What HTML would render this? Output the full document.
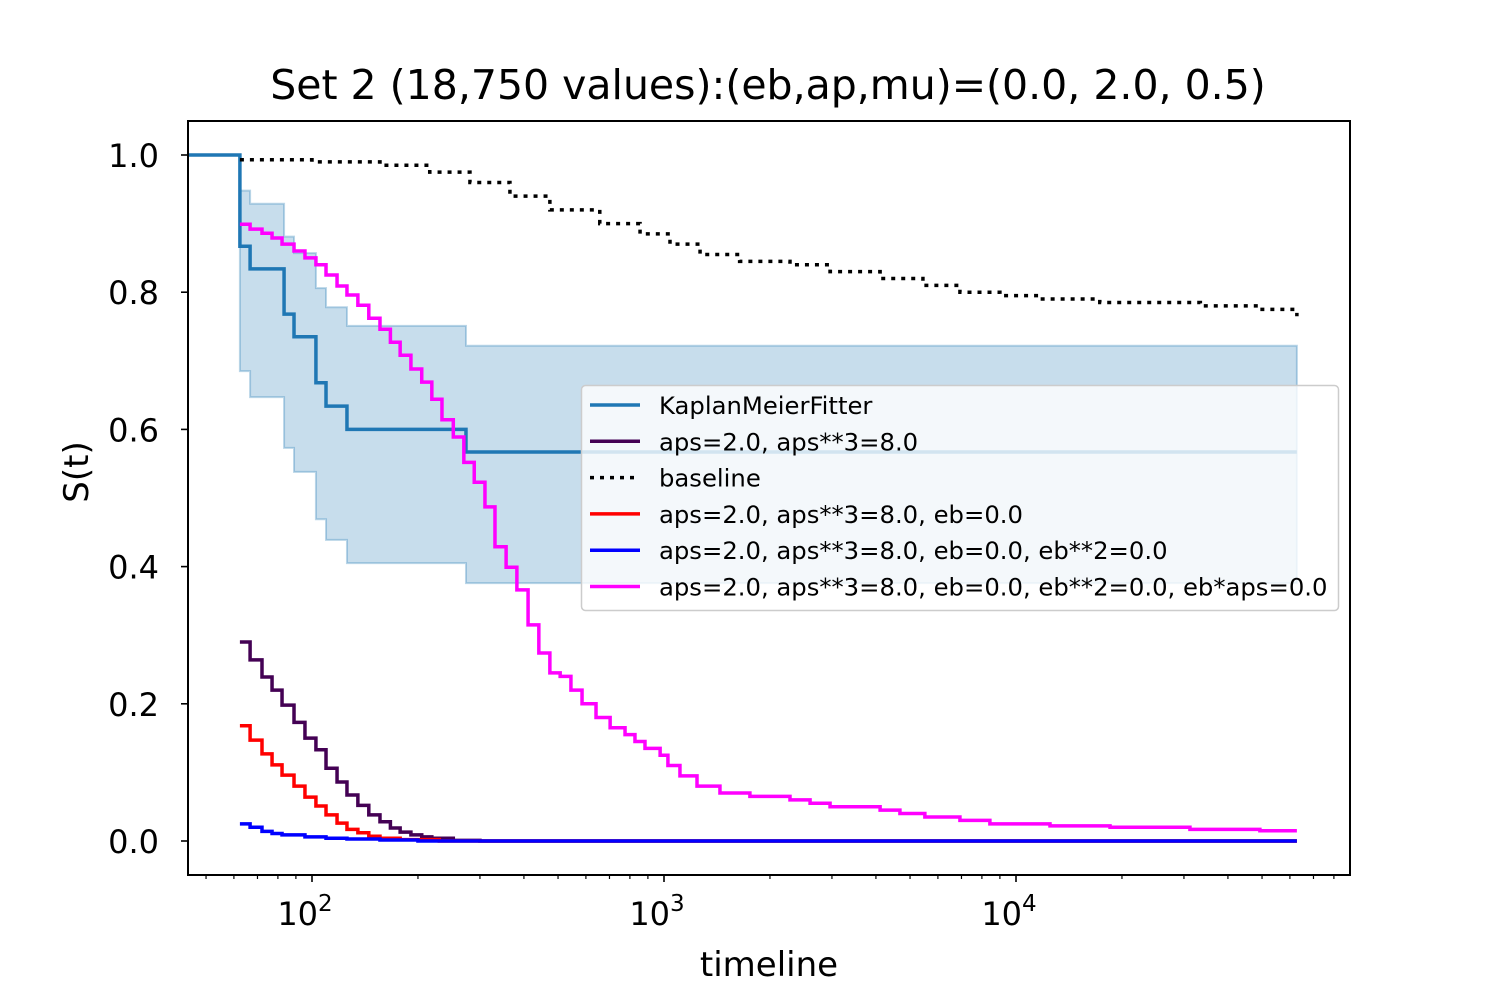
<!DOCTYPE html>
<html><head><meta charset="utf-8"><style>
html,body{margin:0;padding:0;background:#fff;}
svg{display:block;font-family:"DejaVu Sans","Liberation Sans",sans-serif;}
</style></head><body>
<svg id="chart" width="1500" height="1000" viewBox="0 0 1500 1000" xmlns="http://www.w3.org/2000/svg">
<rect width="1500" height="1000" fill="#fff"/>
<text x="768" y="99" font-size="41" text-anchor="middle">Set 2 (18,750 values):(eb,ap,mu)=(0.0, 2.0, 0.5)</text>
<text x="769" y="976" font-size="34" text-anchor="middle">timeline</text>
<text x="88" y="472" font-size="34" text-anchor="middle" transform="rotate(-90 88 472)">S(t)</text>
<g id="plot"></g>
</svg>
<script>
// ---- data ----
const kmTimes=[44.5,62.4,66.7,83.3,88.9,102.6,109.6,125.7,273.8,62800];
const kmValues=[1.0,0.867,0.834,0.768,0.735,0.668,0.634,0.600,0.567,0.567];
const ciUpper=[1.0,0.948,0.929,0.881,0.857,0.806,0.778,0.751,0.722,0.722];
const ciLower=[1.0,0.685,0.647,0.573,0.538,0.469,0.439,0.405,0.376,0.376];
const stepTimes=[62.4,66.7,72.1,77.0,82.2,88.9,95.5,102.6,109.6,117.8,125.7,135,145,156,167,178,191,205,219,234,252,270,289,310,331,356,382,411,441,474,507,544,585,641,703,775,827,883,975,1026,1110,1241,1442,1754,2280,2600,2963,4111,4680,5509,6930,8430,12490,18500,31200,49300,62800];
const magentaValues=[0.899,0.892,0.886,0.879,0.870,0.860,0.850,0.840,0.825,0.809,0.796,0.781,0.762,0.746,0.727,0.708,0.688,0.669,0.644,0.614,0.589,0.552,0.523,0.487,0.429,0.399,0.366,0.315,0.274,0.245,0.24,0.22,0.2,0.18,0.165,0.155,0.145,0.135,0.125,0.11,0.095,0.08,0.07,0.065,0.06,0.055,0.05,0.045,0.04,0.035,0.03,0.025,0.022,0.02,0.017,0.015,0.015];
const purpleTimes=[62.4,66.7,72.1,77.0,82.2,88.9,95.5,102.6,109.6,117.8,125.7,135,145,156,167,178,191,205,219,252,300,62800];
const purpleValues=[0.29,0.264,0.239,0.22,0.198,0.173,0.15,0.133,0.106,0.086,0.067,0.052,0.038,0.028,0.019,0.013,0.009,0.006,0.004,0.001,0.0,0.0];
const redTimes=[62.4,66.7,72.1,77.0,82.2,88.9,95.5,102.6,109.6,117.8,125.7,135,145,156,178,230,62800];
const redValues=[0.168,0.147,0.127,0.111,0.096,0.080,0.064,0.051,0.038,0.026,0.017,0.012,0.007,0.004,0.002,0.0,0.0];
const blueTimes=[62.4,66.7,72.1,77.0,82.2,95.5,109.6,125.7,156,200,62800];
const blueValues=[0.025,0.02,0.014,0.011,0.009,0.006,0.004,0.003,0.0015,0.0,0.0];
const baseTimes=[62.4,100,156,216,281,365,474,657,855,1040,1266,1640,2280,2963,4111,5440,6930,9000,11700,17300,33400,49300,62800];
const baseValues=[0.993,0.99,0.985,0.975,0.96,0.94,0.92,0.90,0.885,0.87,0.855,0.845,0.84,0.83,0.82,0.81,0.80,0.795,0.79,0.785,0.78,0.775,0.765];
const yTicks=[0.0,0.2,0.4,0.6,0.8,1.0];
const yTickLabels=["0.0","0.2","0.4","0.6","0.8","1.0"];
const xMajor=[100,1000,10000];
const xMajorExp=["2","3","4"];
const legendLabels=["KaplanMeierFitter","aps=2.0, aps**3=8.0","baseline","aps=2.0, aps**3=8.0, eb=0.0","aps=2.0, aps**3=8.0, eb=0.0, eb**2=0.0","aps=2.0, aps**3=8.0, eb=0.0, eb**2=0.0, eb*aps=0.0"];
// ---- axes ----
const L=188,R=1350,T=121,B=875;
const sx=t=>312+352*(Math.log10(t)-2);
const sy=v=>841-686*v;
const NS="http://www.w3.org/2000/svg";
const plot=document.getElementById('plot');
function mk(tag,attrs,parent){const e=document.createElementNS(NS,tag);for(const k in attrs)e.setAttribute(k,attrs[k]);(parent||plot).appendChild(e);return e;}
function stepPath(ts,vs){let d='M'+sx(ts[0])+','+sy(vs[0]);for(let i=1;i<ts.length;i++){d+=' H'+sx(ts[i])+' V'+sy(vs[i]);}return d;}
// CI band
let up=stepPath(kmTimes,ciUpper);
let lo='';for(let i=kmTimes.length-1;i>=0;i--){lo+=' L'+sx(kmTimes[i])+','+sy(ciLower[i]);if(i>0)lo+=' L'+sx(kmTimes[i])+','+sy(ciLower[i-1]);}
const band=mk('path',{d:up+lo+' Z',fill:'#1f77b4','fill-opacity':'0.25',stroke:'#1f77b4','stroke-opacity':'0.3','stroke-width':'2'});


function line(ts,vs,color,name,dash){const p=mk('path',{d:stepPath(ts,vs),fill:'none',stroke:color,'stroke-width':'3.5'});if(dash)p.setAttribute('stroke-dasharray',dash);


return p;}
line(kmTimes,kmValues,'#1f77b4','km-line');
line(purpleTimes,purpleValues,'#440154','aps-line');
line(baseTimes,baseValues,'#000','baseline-line','4,6');
line(redTimes,redValues,'#ff0000','eb-line');
line(blueTimes,blueValues,'#0000ff','eb2-line');
line(stepTimes,magentaValues,'#ff00ff','ebaps-line');
// frame
const fr=mk('rect',{x:L,y:T,width:R-L,height:B-T,fill:'none',stroke:'#000','stroke-width':'2'});


// y ticks
yTicks.forEach((v,i)=>{mk('line',{x1:L,x2:L-7,y1:sy(v),y2:sy(v),stroke:'#000','stroke-width':'1.6'});
const t=mk('text',{x:L-29,y:sy(v)+12,'font-size':'32','text-anchor':'end'});t.textContent=yTickLabels[i];

});
// x ticks
for(let d=10;d<=10000;d*=10){for(let m=1;m<10;m++){const t=d*m;const x=sx(t);if(x<L||x>R)continue;const major=m===1;
mk('line',{x1:x,x2:x,y1:B,y2:B+(major?7:4),stroke:'#000','stroke-width':major?'1.6':'1.2'});}}
xMajor.forEach((t,i)=>{const g=mk('text',{x:sx(t)-7,y:B+50,'font-size':'32','text-anchor':'middle'});


g.textContent='10';const s=mk('tspan',{dy:'-14','font-size':'23'},g);s.textContent=xMajorExp[i];});
// legend
const lg=mk('g',{});


mk('rect',{x:581.5,y:385.5,width:757,height:225,rx:4,fill:'#fff','fill-opacity':'0.8',stroke:'#ccc','stroke-width':'1.5'},lg);
const lc=['#1f77b4','#440154','#000','#ff0000','#0000ff','#ff00ff'];
legendLabels.forEach((s,i)=>{const y=405+36.3*i;const e=mk('g',{},lg);


const l=mk('line',{x1:590,x2:640,y1:y,y2:y,stroke:lc[i],'stroke-width':'3.5'},e);if(i===2)l.setAttribute('stroke-dasharray','4,6');
const t=mk('text',{x:659,y:y+9,'font-size':'24.3'},e);t.textContent=s;});
</script>
</body></html>
